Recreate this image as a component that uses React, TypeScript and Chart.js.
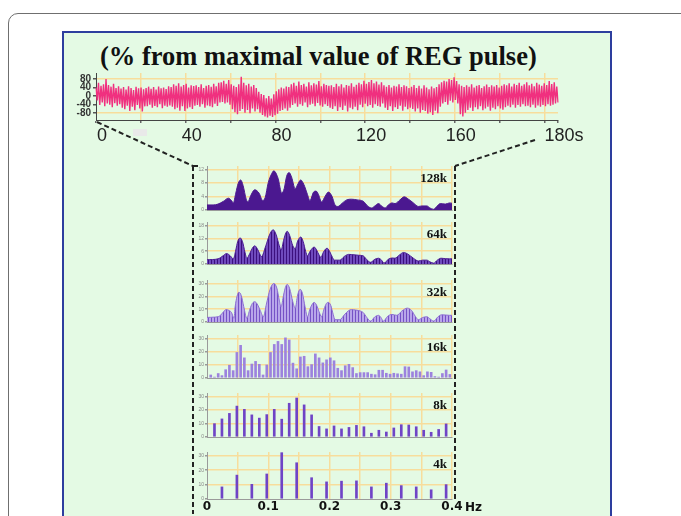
import React, { useEffect, useRef } from 'react';
import { Chart, registerables } from 'chart.js';

Chart.register(...registerables);

// REG pulse wave: maximum and minimum of every cardiac cycle (% of maximal pulse value)
const pulseMax = [
  40, 62, 48, 55, 80, 52, 44, 58, 38, 46,
  35, 42, 30, 46, 38, 28, 44, 36, 40, 32,
  38, 44, 34, 42, 30, 45, 36, 40, 33, 46,
  42, 55, 48, 60, 45, 52, 58, 40, 50, 47,
  50, 42, 55, 38, 48, 52, 44, 58, 46, 62,
  65, 72, 58, 75, 55, 48, 42, 55, 90, 62,
  50, 58, 45, 52, 38, 20, 10, 5, -10, 0,
  -12, 8, 22, 32, 40, 35, 45, 42, 55, 62,
  48, 68, 52, 58, 45, 65, 50, 60, 54, 70,
  46, 58, 52, 48, 50, 42, 58, 46, 55, 40,
  52, 48, 60, 44, 53, 62, 55, 72, 58, 66,
  75, 60, 68, 54, 64, 50, 44, 52, 40, 48,
  45, 55, 42, 50, 46, 38, 44, 52, 38, 48,
  35, 50, 40, 32, 45, 36, 42, 55, 65, 72,
  68, 80, 75, 88, 70, 55, 48, 42, 50, 44,
  55, 40, 48, 52, 38, 46, 54, 42, 50, 45,
  52, 40, 48, 55, 50, 60, 45, 58, 52, 62,
  48, 55, 65, 50, 58, 46, 62, 54, 48, 60,
  52, 70, 56, 64, 45,
];
const pulseMin = [
  -20, -42, -30, -48, -35, -40, -52, -33, -45, -38,
  -55, -62, -45, -70, -50, -66, -42, -58, -72, -48,
  -48, -40, -55, -46, -52, -38, -57, -45, -50, -44,
  -50, -62, -55, -68, -48, -70, -58, -52, -60, -45,
  -42, -50, -38, -55, -44, -48, -52, -36, -46, -30,
  -28, -35, -30, -40, -62, -75, -85, -70, -60, -78,
  -65, -80, -58, -72, -62, -78, -88, -95, -100, -92,
  -98, -90, -82, -70, -65, -58, -68, -55, -42, -35,
  -50, -38, -45, -30, -52, -40, -36, -48, -32, -44,
  -50, -38, -46, -55, -60, -48, -70, -52, -65, -45,
  -72, -55, -62, -50, -66, -40, -52, -36, -48, -42,
  -55, -38, -46, -50, -35, -55, -65, -48, -70, -52,
  -60, -45, -68, -50, -62, -55, -60, -72, -58, -78,
  -65, -70, -82, -75, -88, -68, -80, -50, -35, -28,
  -40, -22, -30, -18, -35, -85, -95, -78, -65, -55,
  -70, -52, -62, -48, -66, -58, -50, -68, -55, -62,
  -48, -58, -64, -52, -45, -52, -40, -55, -42, -50,
  -38, -48, -45, -52, -40, -55, -44, -50, -42, -48,
  -38, -45, -40, -35, -30,
];

// time axis of the recording
const timeLabels = [0, 40, 80, 120, 160];
const timeGrid = [0, 20, 40, 60, 80, 100, 120, 140, 160, 180, 200];
const timeAxisEnd = 206;
const timeEndLabel = '180s';
const amplitudeTicks = [-80, -40, 0, 40, 80];

// spectra: frequency axis
const freqGrid = [0, 0.05, 0.1, 0.15, 0.2, 0.25, 0.3, 0.35, 0.4];
const freqLabels = [0, 0.1, 0.2, 0.3, 0.4];

// 128k window (continuous spectrum)
const spec128Freq = [
  0, 0.01, 0.018, 0.027, 0.035, 0.04, 0.043, 0.047, 0.051, 0.055,
  0.059, 0.064, 0.067, 0.071, 0.078, 0.085, 0.091, 0.095, 0.1, 0.106,
  0.109, 0.116, 0.122, 0.126, 0.13, 0.134, 0.138, 0.144, 0.147, 0.153,
  0.158, 0.164, 0.168, 0.174, 0.178, 0.182, 0.187, 0.193, 0.198, 0.204,
  0.209, 0.214, 0.22, 0.228, 0.236, 0.245, 0.255, 0.263, 0.269, 0.274,
  0.28, 0.285, 0.291, 0.296, 0.302, 0.307, 0.315, 0.322, 0.329, 0.337,
  0.345, 0.351, 0.359, 0.364, 0.37, 0.375, 0.381, 0.389, 0.396, 0.4,
];
const spec128Power = [
  1.5, 1.5, 1.75, 2.6, 3.5, 2.8, 2.1, 5.0, 7.9, 8.9,
  7.2, 3.2, 2.4, 4.1, 6.0, 5.0, 2.8, 3.7, 8.1, 10.9,
  11.6, 9.4, 5.0, 6.3, 10.0, 11.1, 9.8, 6.3, 7.2, 8.9,
  7.6, 4.6, 2.8, 5.3, 5.6, 4.6, 2.4, 4.1, 5.3, 4.1,
  1.5, 1.05, 1.9, 3.0, 3.2, 3.0, 2.6, 1.05, 0.6, 1.2,
  1.9, 1.2, 0.6, 1.5, 2.1, 1.9, 3.0, 3.9, 3.2, 2.1,
  1.05, 1.2, 1.2, 0.6, 0.2, 1.05, 1.9, 1.75, 2.1, 2.0,
];

// 64k window
const spec64Freq = [
  0, 0.018, 0.026, 0.032, 0.038, 0.043, 0.047, 0.05, 0.054, 0.058,
  0.062, 0.065, 0.07, 0.074, 0.078, 0.082, 0.086, 0.089, 0.096, 0.102,
  0.108, 0.113, 0.118, 0.121, 0.125, 0.128, 0.131, 0.135, 0.14, 0.144,
  0.148, 0.153, 0.157, 0.161, 0.164, 0.168, 0.172, 0.175, 0.179, 0.183,
  0.186, 0.19, 0.196, 0.2, 0.205, 0.208, 0.217, 0.224, 0.231, 0.24,
  0.247, 0.255, 0.261, 0.267, 0.274, 0.28, 0.285, 0.289, 0.296, 0.302,
  0.307, 0.314, 0.321, 0.328, 0.337, 0.345, 0.352, 0.359, 0.364, 0.37,
  0.376, 0.382, 0.389, 0.396, 0.4,
];
const spec64Power = [
  2.0, 2.4, 3.8, 4.9, 3.8, 2.4, 6.5, 10.4, 12.2, 10.4,
  5.5, 2.7, 5.0, 7.4, 8.5, 7.2, 4.8, 3.5, 8.5, 13.6,
  16.0, 13.6, 8.5, 6.5, 11.0, 14.0, 15.3, 13.3, 8.6, 7.2,
  10.7, 12.6, 10.5, 6.0, 3.8, 5.8, 7.4, 7.9, 6.5, 4.2,
  3.1, 5.5, 7.4, 6.0, 3.0, 1.8, 1.8, 3.5, 4.5, 4.3,
  4.1, 3.8, 2.0, 0.8, 2.2, 2.7, 1.8, 0.4, 2.2, 2.8,
  2.7, 4.2, 5.4, 4.6, 2.7, 1.4, 1.8, 1.8, 1.0, 0.4,
  1.8, 2.7, 2.5, 2.4, 2.4,
];

// 32k window
const spec32Freq = [
  0, 0.012, 0.021, 0.027, 0.031, 0.036, 0.04, 0.044, 0.046, 0.049,
  0.052, 0.056, 0.06, 0.065, 0.07, 0.074, 0.078, 0.082, 0.087, 0.092,
  0.097, 0.103, 0.109, 0.114, 0.118, 0.121, 0.125, 0.128, 0.131, 0.135,
  0.14, 0.144, 0.148, 0.152, 0.156, 0.16, 0.164, 0.168, 0.172, 0.175,
  0.179, 0.183, 0.187, 0.191, 0.195, 0.198, 0.202, 0.206, 0.209, 0.217,
  0.224, 0.231, 0.236, 0.243, 0.25, 0.255, 0.261, 0.267, 0.274, 0.28,
  0.284, 0.288, 0.295, 0.302, 0.31, 0.318, 0.327, 0.334, 0.34, 0.345,
  0.352, 0.359, 0.364, 0.37, 0.377, 0.383, 0.39, 0.396, 0.4,
];
const spec32Power = [
  3.6, 3.8, 4.8, 8.0, 9.7, 9.0, 7.4, 2.9, 12.0, 20.0,
  23.2, 20.5, 12.0, 2.9, 10.0, 14.5, 15.8, 14.0, 9.0, 4.1,
  14.0, 25.5, 30.0, 26.5, 17.0, 12.0, 21.0, 27.0, 29.3, 26.0,
  16.0, 10.8, 21.0, 25.5, 22.0, 12.0, 4.1, 10.0, 14.0, 15.3,
  13.0, 8.0, 4.1, 10.0, 14.5, 15.3, 13.0, 6.0, 1.8, 1.8,
  5.5, 8.8, 9.7, 9.3, 8.6, 7.4, 3.5, 0.7, 4.0, 5.2,
  3.5, 0.7, 4.5, 5.9, 5.2, 8.5, 10.8, 9.0, 4.5, 1.8,
  3.5, 4.1, 2.5, 0.7, 4.0, 5.6, 5.4, 5.2, 5.2,
];

// 16k, 8k and 4k windows (discrete bins)
const spec16Bin = 0.0061;
const spec16Power = [
  2.3, 0.7, 3.4, 1.8, 6.3, 9.7, 5.6, 19.4, 24.8, 15.3,
  5.6, 10.6, 12.6, 10.4, 2.3, 9.9, 19.4, 25.5, 27.8, 25.5,
  30.5, 28.9, 11.3, 7.0, 16.0, 16.5, 8.6, 10.2, 18.3, 15.3,
  11.5, 13.8, 15.3, 13.1, 7.4, 5.6, 9.3, 10.4, 7.9, 3.4,
  4.1, 4.1, 4.1, 2.9, 2.5, 5.9, 5.9, 3.6, 2.9, 3.6,
  3.2, 2.9, 8.6, 8.4, 4.7, 5.6, 4.7, 1.8, 4.7, 4.3,
  1.1, 0.7, 3.4, 6.1, 2.7,
];
const spec8Bin = 0.0122;
const spec8Power = [
  9.9, 13.4, 17.5, 22.9, 20.5, 16.4, 14.0, 16.6, 20.5, 13.2,
  25.0, 28.9, 23.8, 16.4, 7.8, 6.0, 8.2, 6.0, 7.1, 8.6,
  7.6, 2.8, 5.0, 3.7, 6.7, 9.1, 8.9, 7.6, 5.0, 3.5,
  5.6, 9.7,
];
const spec4Bin = 0.0244;
const spec4Power = [8.4, 16.6, 10.2, 17.4, 32.2, 25.2, 14.8, 11.9, 12.4, 12.6, 8.4, 11.0, 9.3, 8.4, 6.4, 10.0];

const GRID = '#f7dd9c';
const NONE = 'rgba(0,0,0,0)';
const PINK = '#f0307f';
const SANS = '"Liberation Sans", Arial, sans-serif';

const binFreqs = (n: number, df: number) => Array.from({ length: n }, (_, i) => (i + 1) * df);
const pairs = (xs: number[], ys: number[]) => ys.map((y, i) => ({ x: xs[i], y }));

function stripes(canvas: HTMLCanvasElement, dark: string, light: string) {
  const tile = document.createElement('canvas');
  tile.width = 3;
  tile.height = 4;
  const g = tile.getContext('2d')!;
  g.fillStyle = light;
  g.fillRect(0, 0, 3, 4);
  g.fillStyle = dark;
  g.fillRect(0, 0, 1, 4);
  return canvas.getContext('2d')!.createPattern(tile, 'repeat');
}

function ChartBox({ left, top, width, height, build }: { left: number; top: number; width: number; height: number; build: (c: HTMLCanvasElement) => any }) {
  const ref = useRef<HTMLCanvasElement>(null);
  useEffect(() => {
    const canvas = ref.current!;
    const chart = new Chart(canvas, build(canvas));
    return () => chart.destroy();
  }, []);
  return <canvas ref={ref} width={width} height={height} style={{ position: 'absolute', left, top, width, height }} />;
}

function pulseConfig() {
  const series = pulseMax.flatMap((hi, i) => [hi, pulseMin[i]]);
  return {
    type: 'line',
    data: {
      labels: series.map((_, i) => i),
      datasets: [{ data: series, borderColor: PINK, borderWidth: 1.4, pointRadius: 0, tension: 0, xAxisID: 'x', yAxisID: 'y' }],
    },
    options: {
      animation: false,
      responsive: false,
      devicePixelRatio: 1,
      layout: { padding: { top: 4, right: 40, left: 0, bottom: 0 } },
      plugins: { legend: { display: false }, tooltip: { enabled: false } },
      scales: {
        x: { type: 'category', display: false, offset: false },
        t: {
          type: 'linear', axis: 'x', position: 'bottom', min: 0, max: timeAxisEnd,
          afterBuildTicks: (s: any) => { s.ticks = timeGrid.concat([timeAxisEnd]).map((v) => ({ value: v })); },
          afterFit: (s: any) => { s.height = 26; },
          grid: {
            color: (c: any) => (c.tick && c.tick.value > 0 && c.tick.value < timeAxisEnd ? GRID : NONE),
            lineWidth: 1.5, tickLength: 3, tickColor: '#666',
          },
          border: { display: true, color: '#444', width: 1 },
          ticks: {
            autoSkip: false, maxRotation: 0, padding: 2, labelOffset: 6, color: '#222',
            font: { family: SANS, size: 18 },
            callback: (v: number) => (v === timeAxisEnd ? timeEndLabel : timeLabels.includes(v) ? String(v) : ''),
          },
        },
        y: {
          min: -112, max: 108,
          afterBuildTicks: (s: any) => { s.ticks = amplitudeTicks.map((v) => ({ value: v })); },
          afterFit: (s: any) => { s.width = 32; },
          grid: { color: (c: any) => (c.tick && Math.abs(c.tick.value) === 80 ? GRID : NONE), lineWidth: 1.5, tickLength: 3, tickColor: '#555' },
          border: { display: true, color: '#444', width: 1 },
          ticks: { autoSkip: false, padding: 2, color: '#333', font: { family: SANS, size: 10, weight: 'bold', lineHeight: 1 } },
        },
      },
    },
  };
}

type Panel = { name: string; areaTop: number; gridPx: number; zero: number; topValue: number; step: number };

const panels: Panel[] = [
  { name: '128k', areaTop: 164, gridPx: 168, zero: 214, topValue: 12, step: 4 },
  { name: '64k', areaTop: 220, gridPx: 224, zero: 268, topValue: 18, step: 6 },
  { name: '32k', areaTop: 278, gridPx: 282, zero: 326, topValue: 30, step: 10 },
  { name: '16k', areaTop: 333, gridPx: 337, zero: 382, topValue: 30, step: 10 },
  { name: '8k', areaTop: 391, gridPx: 395, zero: 441, topValue: 30, step: 10 },
  { name: '4k', areaTop: 450, gridPx: 454, zero: 499, topValue: 30, step: 10 },
];

const PANEL_LEFT = 193;
const PANEL_AXIS_W = 14;
const PANEL_RIGHT_PAD = 45;
const PANEL_WIDTH = 452 + PANEL_RIGHT_PAD - PANEL_LEFT;
const FREQ_AXIS_H = 17;

function datasetFor(name: string, canvas: HTMLCanvasElement) {
  const area = { pointRadius: 0, fill: 'origin', cubicInterpolationMode: 'monotone', borderWidth: 1 };
  switch (name) {
    case '128k':
      return { type: 'line', data: pairs(spec128Freq, spec128Power), backgroundColor: '#4b1890', borderColor: '#4b1890', ...area };
    case '64k':
      return { type: 'line', data: pairs(spec64Freq, spec64Power), backgroundColor: stripes(canvas, '#3b0f7e', '#6f4abd'), borderColor: '#4a1b94', ...area };
    case '32k':
      return { type: 'line', data: pairs(spec32Freq, spec32Power), backgroundColor: stripes(canvas, '#7652c6', '#b8a6ea'), borderColor: '#8d6fd3', ...area };
    case '16k':
      return { type: 'bar', data: pairs(binFreqs(spec16Power.length, spec16Bin), spec16Power), backgroundColor: '#9c82de', barThickness: 2 };
    case '8k':
      return { type: 'bar', data: pairs(binFreqs(spec8Power.length, spec8Bin), spec8Power), backgroundColor: '#6f44c6', barThickness: 2 };
    default:
      return { type: 'bar', data: pairs(binFreqs(spec4Power.length, spec4Bin), spec4Power), backgroundColor: '#6f44c6', barThickness: 2 };
  }
}

function spectrumConfig(p: Panel, withAxis: boolean, canvas: HTMLCanvasElement) {
  const h = p.zero - p.areaTop;
  const max = (p.topValue * h) / (p.zero - p.gridPx);
  const ds = datasetFor(p.name, canvas);
  return {
    type: ds.type,
    data: { datasets: [ds] },
    options: {
      animation: false,
      responsive: false,
      devicePixelRatio: 1,
      layout: { padding: { top: 2, right: PANEL_RIGHT_PAD, left: 0, bottom: 0 } },
      plugins: { legend: { display: false }, tooltip: { enabled: false } },
      scales: {
        x: {
          type: 'linear', min: 0, max: 0.4, offset: false,
          afterBuildTicks: (s: any) => { s.ticks = freqGrid.map((v) => ({ value: v })); },
          afterFit: (s: any) => { s.height = withAxis ? FREQ_AXIS_H : 0; },
          grid: { offset: false, color: (c: any) => (c.tick && c.tick.value > 0 ? GRID : NONE), lineWidth: 1.5, drawTicks: false },
          border: { display: true, color: '#9a9a9a', width: 1 },
          ticks: {
            display: withAxis, autoSkip: false, maxRotation: 0, padding: 1, color: '#111',
            font: { family: '"DejaVu Sans", sans-serif', size: 12, weight: 'bold' },
            callback: (v: number) => (freqLabels.includes(v) ? String(v) : ''),
          },
        },
        y: {
          min: 0, max,
          afterBuildTicks: (s: any) => { s.ticks = [0, p.step, 2 * p.step, 3 * p.step].map((v) => ({ value: v })); },
          afterFit: (s: any) => { s.width = PANEL_AXIS_W; },
          grid: { color: (c: any) => (c.tick && c.tick.value > 0 ? GRID : NONE), lineWidth: 1.5, tickLength: 2, tickColor: '#999' },
          border: { display: true, color: '#9a9a9a', width: 1 },
          ticks: { autoSkip: false, padding: 1, color: '#888', font: { family: SANS, size: 5 } },
        },
      },
    },
    plugins: [
      {
        id: 'panelName',
        afterDraw(chart: any) {
          const { ctx, chartArea, scales } = chart;
          ctx.save();
          ctx.fillStyle = '#111';
          ctx.font = 'bold 13px "Liberation Serif", serif';
          ctx.textAlign = 'right';
          ctx.textBaseline = 'middle';
          ctx.fillText(p.name, chartArea.right - 5, scales.y.getPixelForValue(p.topValue) + 9);
          if (withAxis) {
            ctx.font = 'bold 12px "DejaVu Sans", sans-serif';
            ctx.textAlign = 'left';
            ctx.fillText('Hz', scales.x.getPixelForValue(0.4) + 13, chartArea.bottom + 9);
          }
          ctx.restore();
        },
      },
    ],
  };
}

export default function App() {
  const last = panels.length - 1;
  return (
    <div style={{ position: 'absolute', left: 0, top: 0, width: 681, height: 516, overflow: 'hidden', background: '#fff' }}>
      <div style={{ position: 'absolute', left: 8, top: 13, width: 720, height: 560, border: '1px solid #6f6f6f', borderRadius: 10 }} />
      <div style={{ position: 'absolute', left: 62, top: 31, width: 546, height: 520, background: '#e4fae4', border: '2px solid #2d3e9e' }} />
      <div
        style={{
          position: 'absolute', left: 100, top: 41, whiteSpace: 'nowrap', lineHeight: 1,
          font: 'bold 26.5px "Liberation Serif", "Times New Roman", serif', color: '#111',
        }}
      >
        (% from maximal value of REG pulse)
      </div>
      <div style={{ position: 'absolute', left: 133, top: 129, width: 14, height: 7, background: '#e9e9e9' }} />
      <ChartBox left={64} top={66} width={534} height={80} build={() => pulseConfig()} />
      {panels.map((p, i) => (
        <ChartBox
          key={p.name}
          left={PANEL_LEFT}
          top={p.areaTop - 2}
          width={PANEL_WIDTH}
          height={2 + (p.zero - p.areaTop) + (i === last ? FREQ_AXIS_H : 0)}
          build={(c) => spectrumConfig(p, i === last, c)}
        />
      ))}
      <svg width={681} height={516} style={{ position: 'absolute', left: 0, top: 0, pointerEvents: 'none' }}>
        <g stroke="#222" strokeWidth={2} strokeDasharray="5 3" fill="none">
          <line x1={97} y1={122} x2={193} y2={166} />
          <line x1={535} y1={140} x2={455} y2={166} />
          <line x1={193} y1={166} x2={193} y2={514} />
          <line x1={455} y1={166} x2={455} y2={500} />
          <line x1={193} y1={166} x2={200} y2={166} />
        </g>
      </svg>
    </div>
  );
}
